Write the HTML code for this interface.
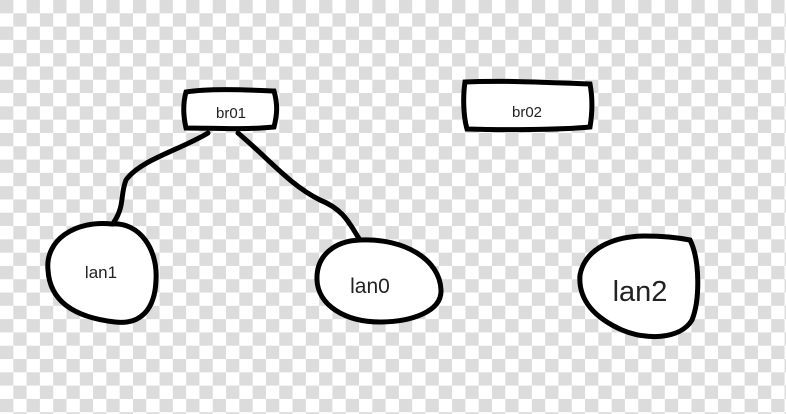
<!DOCTYPE html>
<html><head><meta charset="utf-8"><style>
html,body{margin:0;padding:0;}
body{width:786px;height:414px;overflow:hidden;
background-color:#fff;
background-image:conic-gradient(#fff 0 25%,#dcdcdc 0 50%,#fff 0 75%,#dcdcdc 0);
background-size:26.6px 26.6px;}
svg{position:absolute;left:0;top:0;}
text{font-family:"Liberation Sans","DejaVu Sans",sans-serif;fill:#222;}
</style></head><body>
<svg width="786" height="414" viewBox="0 0 786 414">
<g fill="none" stroke="#000" stroke-width="5" stroke-linecap="round" stroke-linejoin="round">
<path d="M208 133 C180 150 140 160 126 180 C120 195 125 205 114 222"/>
<path d="M238 133 C270 160 290 185 320 200 C345 210 350 225 360 240"/>
</g>
<g>
<path d="M186 92 C210 88 250 90 274 91 C278 105 277 115 274 127 C245 130 210 128 186 128 C183 115 183 103 186 92 Z" fill="#fff" stroke="#000" stroke-width="5"/>
<text x="231" y="118" font-size="15" text-anchor="middle">br01</text></g>
<g>
<path d="M465 82 C505 80 560 83 590 84 C593 100 592 115 590 127 C560 130 500 130 467 129 C463 115 463 95 465 82 Z" fill="#fff" stroke="#000" stroke-width="5"/>
<text x="527" y="117" font-size="15" text-anchor="middle">br02</text></g>
<g>
<path d="M112 224 C140 222 158 250 156 280 C155 310 140 325 115 322 C80 318 50 305 48 270 C45 240 75 220 112 224 Z" fill="#fff" stroke="#000" stroke-width="5"/>
<text x="101" y="278" font-size="17" text-anchor="middle">lan1</text></g>
<g>
<path d="M360 240 C405 238 440 260 441 290 C442 312 410 322 380 322 C345 322 318 305 317 280 C316 255 335 241 360 240 Z" fill="#fff" stroke="#000" stroke-width="5"/>
<text x="370" y="293" font-size="21" text-anchor="middle">lan0</text></g>
<g>
<path d="M690 240 C700 260 700 300 692 320 C680 340 645 340 622 330 C595 318 578 300 580 275 C585 248 615 236 645 236 C665 236 680 238 690 240 Z" fill="#fff" stroke="#000" stroke-width="5"/>
<text x="640" y="301" font-size="29" text-anchor="middle">lan2</text></g>
</svg>
</body></html>
